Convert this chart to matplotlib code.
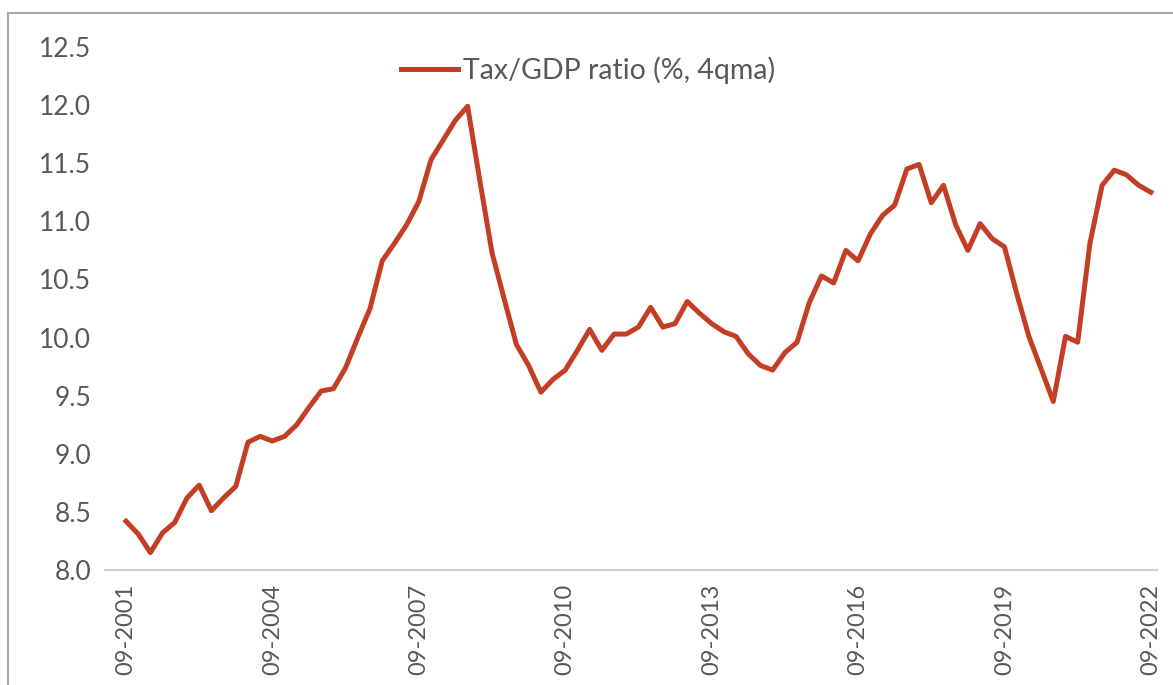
import matplotlib
matplotlib.use('Agg')
import matplotlib.pyplot as plt
from matplotlib.patches import Rectangle
import numpy as np

# quarterly, 09-2001 .. 09-2022
tax_gdp = [8.42, 8.31, 8.15, 8.32, 8.41, 8.62, 8.73, 8.51, 8.62, 8.72,
           9.10, 9.15, 9.11, 9.15, 9.25, 9.40, 9.54, 9.56, 9.74, 10.00,
           10.25, 10.66, 10.81, 10.97, 11.17, 11.53, 11.70, 11.87, 11.99, 11.35,
           10.73, 10.33, 9.94, 9.76, 9.53, 9.64, 9.72, 9.89, 10.07, 9.89,
           10.03, 10.03, 10.09, 10.26, 10.09, 10.12, 10.31, 10.21, 10.12, 10.05,
           10.01, 9.86, 9.76, 9.72, 9.87, 9.96, 10.30, 10.53, 10.47, 10.75,
           10.66, 10.89, 11.05, 11.14, 11.45, 11.49, 11.16, 11.31, 10.97, 10.75,
           10.98, 10.85, 10.78, 10.38, 10.01, 9.73, 9.45, 10.01, 9.96, 10.81,
           11.31, 11.44, 11.40, 11.31, 11.25]
tick_labels = ['09-2001', '09-2004', '09-2007', '09-2010', '09-2013',
               '09-2016', '09-2019', '09-2022']
y_ticks = [8.0, 8.5, 9.0, 9.5, 10.0, 10.5, 11.0, 11.5, 12.0, 12.5]

plt.rcParams['font.family'] = ['Lato', 'DejaVu Sans']
grey = '#595959'
red = '#C43E26'

fig = plt.figure(figsize=(11.73, 6.85), dpi=100)
# outer chart frame (cut off on right/bottom in the source)
fig.patches.append(Rectangle((8 / 1173, -0.1), 1.2, 1 - 13 / 685 + 0.1,
                             transform=fig.transFigure, fill=False,
                             edgecolor='#a6a6a6', linewidth=1.5))

ax = fig.add_axes([105 / 1173, 1 - 570 / 685, (1157 - 105) / 1173, (570 - 47) / 685])
x = np.arange(len(tax_gdp))
ax.plot(x, tax_gdp, color=red, linewidth=3.6, solid_joinstyle='round',
        label='Tax/GDP ratio (%, 4qma)')

ax.set_xlim(-1.72, 84.5)
ax.set_ylim(8.0, 12.5)
ax.set_yticks(y_ticks)
ax.set_yticklabels(['%.1f' % v for v in y_ticks])
ax.set_xticks(x[::12])
ax.set_xticklabels(tick_labels, rotation=90)

for s in ['top', 'right', 'left']:
    ax.spines[s].set_visible(False)
ax.spines['bottom'].set_color('#d0d0d0')
ax.spines['bottom'].set_linewidth(1.5)
ax.tick_params(axis='both', length=0, labelcolor=grey)
ax.tick_params(axis='y', pad=10, labelsize=19)
ax.tick_params(axis='x', pad=10, labelsize=17)

leg = ax.legend(loc='center', bbox_to_anchor=((588 - 105) / 1052, (685 - 70 - 115) / 523),
                frameon=False, fontsize=20.5, handlelength=2.0, handletextpad=0.15)
for t in leg.get_texts():
    t.set_color(grey)

fig.savefig('out.png', dpi=100)
